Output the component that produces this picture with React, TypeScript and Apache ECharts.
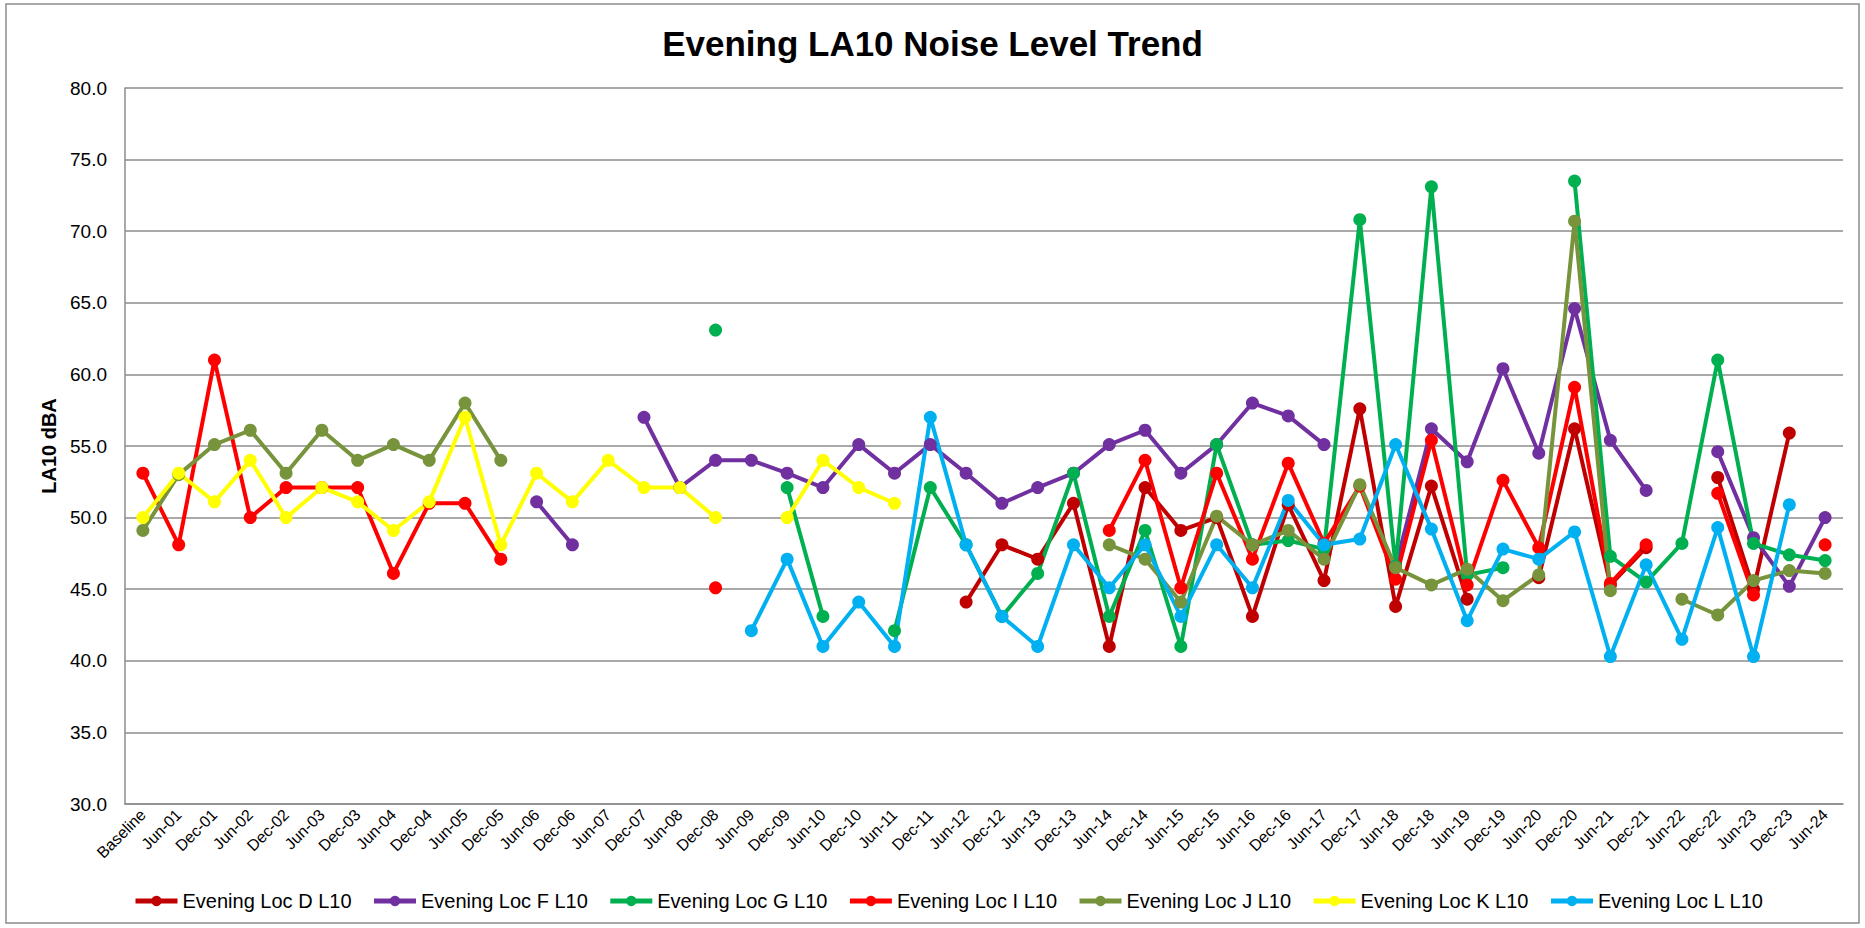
import React, { useEffect, useRef } from "react";
import * as echarts from "echarts";

const categories: string[] = [
  "Baseline",
  "Jun-01", "Dec-01", "Jun-02", "Dec-02", "Jun-03", "Dec-03", "Jun-04", "Dec-04",
  "Jun-05", "Dec-05", "Jun-06", "Dec-06", "Jun-07", "Dec-07", "Jun-08", "Dec-08",
  "Jun-09", "Dec-09", "Jun-10", "Dec-10", "Jun-11", "Dec-11", "Jun-12", "Dec-12",
  "Jun-13", "Dec-13", "Jun-14", "Dec-14", "Jun-15", "Dec-15", "Jun-16", "Dec-16",
  "Jun-17", "Dec-17", "Jun-18", "Dec-18", "Jun-19", "Dec-19", "Jun-20", "Dec-20",
  "Jun-21", "Dec-21", "Jun-22", "Dec-22", "Jun-23", "Dec-23", "Jun-24",
];

const _ = null;

const locD: (number | null)[] = [
  _, _, _, _, _, _, _, _, _, _, _, _, _, _, _, _,
  _, _, _, _, _, _, _, 44.1, 48.1, 47.1, 51.0, 41.0, 52.1, 49.1, 50.0, 43.1,
  50.9, 45.6, 57.6, 43.8, 52.2, 44.3, _, 45.8, 56.2, 45.3, 47.9, _, 52.8, 45.0, 55.9, _,
];

const locF: (number | null)[] = [
  _, _, _, _, _, _, _, _, _, _, _, 51.1, 48.1, _, 57.0, 52.1,
  54.0, 54.0, 53.1, 52.1, 55.1, 53.1, 55.1, 53.1, 51.0, 52.1, 53.1, 55.1, 56.1, 53.1, 55.1, 58.0,
  57.1, 55.1, _, 46.6, 56.2, 53.9, 60.4, 54.5, 64.6, 55.4, 51.9, _, 54.6, 48.6, 45.2, 50.0,
];

const locG: (number | null)[] = [
  _, _, _, _, _, _, _, _, _, _, _, _, _, _, _, _,
  63.1, _, 52.1, 43.1, _, 42.1, 52.1, 48.1, 43.1, 46.1, 53.1, 43.1, 49.1, 41.0, 55.1, 48.1,
  48.4, 47.8, 70.8, 46.6, 73.1, 46.0, 46.5, _, 73.5, 47.3, 45.5, 48.2, 61.0, 48.2, 47.4, 47.0,
];

const locI: (number | null)[] = [
  53.1, 48.1, 61.0, 50.0, 52.1, 52.1, 52.1, 46.1, 51.0, 51.0, 47.1, _, _, _, _, _,
  45.1, _, _, _, _, _, _, _, _, _, _, 49.1, 54.0, 45.1, 53.1, 47.1,
  53.8, 48.2, 52.2, 45.7, 55.4, 45.3, 52.6, 47.9, 59.1, 45.4, 48.1, _, 51.7, 44.6, _, 48.1,
];

const locJ: (number | null)[] = [
  49.1, 53.0, 55.1, 56.1, 53.1, 56.1, 54.0, 55.1, 54.0, 58.0, 54.0, _, _, _, _, _,
  _, _, _, _, _, _, _, _, _, _, _, 48.1, 47.1, 44.1, 50.1, 48.1,
  49.1, 47.1, 52.3, 46.5, 45.3, 46.4, 44.2, 46.0, 70.7, 44.9, _, 44.3, 43.2, 45.6, 46.3, 46.1,
];

const locK: (number | null)[] = [
  50.0, 53.1, 51.1, 54.0, 50.0, 52.1, 51.1, 49.1, 51.1, 57.0, 48.1, 53.1, 51.1, 54.0, 52.1, 52.1,
  50.0, _, 50.0, 54.0, 52.1, 51.0, _, _, _, _, _, _, _, _, _, _,
  _, _, _, _, _, _, _, _, _, _, _, _, _, _, _, _,
];

const locL: (number | null)[] = [
  _, _, _, _, _, _, _, _, _, _, _, _, _, _, _, _,
  _, 42.1, 47.1, 41.0, 44.1, 41.0, 57.0, 48.1, 43.1, 41.0, 48.1, 45.1, 48.1, 43.1, 48.1, 45.1,
  51.2, 48.1, 48.5, 55.1, 49.2, 42.8, 47.8, 47.1, 49.0, 40.3, 46.7, 41.5, 49.3, 40.3, 50.9, _,
];

const seriesNames: string[] = [
  "Evening Loc D L10",
  "Evening Loc F L10",
  "Evening Loc G L10",
  "Evening Loc I L10",
  "Evening Loc J L10",
  "Evening Loc K L10",
  "Evening Loc L L10",
];

const seriesColors: string[] = [
  "#C00000",
  "#7030A0",
  "#00B050",
  "#FF0000",
  "#77933C",
  "#FFFF00",
  "#00B0F0",
];

const seriesData = [locD, locF, locG, locI, locJ, locK, locL];

const FONT = "'Liberation Sans', Arial, sans-serif";

export default function App() {
  const ref = useRef<HTMLDivElement>(null);

  useEffect(() => {
    if (!ref.current) return;
    const chart = echarts.init(ref.current, undefined, { renderer: "svg" });
    const gridColor = "#8c8c8c";
    chart.setOption({
      animation: false,
      backgroundColor: "#ffffff",
      textStyle: { fontFamily: FONT },
      title: {
        text: "Evening LA10 Noise Level Trend",
        left: "center",
        top: 21,
        textStyle: {
          fontFamily: FONT,
          fontSize: 35,
          fontWeight: "bold",
          color: "#000000",
        },
      },
      graphic: [
        {
          type: "rect",
          shape: { x: 6, y: 4, width: 1853, height: 919 },
          style: { fill: "none", stroke: "#8c8c8c", lineWidth: 1.5 },
          silent: true,
          z: -1,
        },
      ],
      legend: {
        data: seriesNames,
        left: 128,
        top: 886,
        itemWidth: 42,
        itemHeight: 13,
        itemGap: 20,
        lineStyle: { width: 5 },
        textStyle: { fontFamily: FONT, fontSize: 20, color: "#000000" },
      },
      grid: {
        left: 125,
        right: 22,
        top: 88,
        bottom: 124,
        containLabel: false,
      },
      xAxis: {
        type: "category",
        data: categories,
        boundaryGap: true,
        axisLine: { show: true, lineStyle: { color: gridColor, width: 1.5 } },
        axisTick: { show: false },
        axisLabel: {
          interval: 0,
          rotate: 45,
          fontSize: 16,
          fontFamily: FONT,
          color: "#000000",
          margin: 8,
        },
        splitLine: { show: false },
      },
      yAxis: {
        type: "value",
        min: 30,
        max: 80,
        interval: 5,
        name: "LA10 dBA",
        nameLocation: "middle",
        nameGap: 66,
        nameTextStyle: {
          fontFamily: FONT,
          fontSize: 20,
          fontWeight: "bold",
          color: "#000000",
        },
        axisLine: { show: true, lineStyle: { color: gridColor, width: 1.5 } },
        axisTick: { show: false },
        axisLabel: {
          fontSize: 19,
          fontFamily: FONT,
          color: "#000000",
          margin: 18,
          formatter: (v: number) => v.toFixed(1),
        },
        splitLine: { show: true, lineStyle: { color: gridColor, width: 1.5 } },
      },
      series: seriesNames.map((name, i) => ({
        name,
        type: "line",
        data: seriesData[i],
        connectNulls: false,
        showSymbol: true,
        showAllSymbol: true,
        symbol: "circle",
        symbolSize: 13,
        color: seriesColors[i],
        itemStyle: { color: seriesColors[i] },
        lineStyle: { color: seriesColors[i], width: 4 },
        emphasis: { disabled: true },
      })),
    });
    return () => {
      chart.dispose();
    };
  }, []);

  return (
    <div
      ref={ref}
      style={{ position: "fixed", left: 0, top: 0, width: 1865, height: 928 }}
    />
  );
}
